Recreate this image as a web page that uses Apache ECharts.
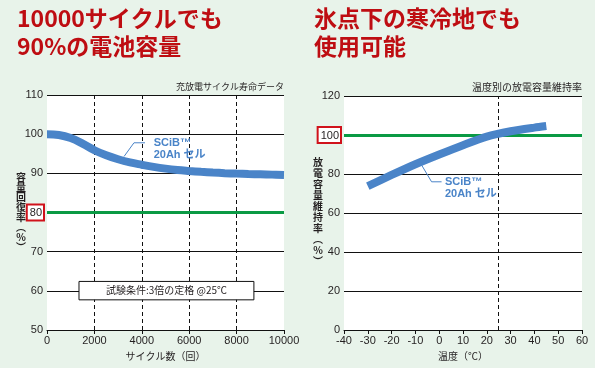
<!DOCTYPE html>
<html><head><meta charset="utf-8">
<script src="https://cdn.jsdelivr.net/npm/echarts@6/dist/echarts.min.js"></script>
<style>html,body{margin:0;padding:0;background:#e8f3ea}#c{width:595px;height:368px}</style>
</head><body><div id="c"></div>
<script>
// ---- data ----
const cycles = [0,500,1000,1500,2000,2500,3000,3500,4000,4500,5000,5500,6000,6500,7000,7500,8000,8500,9000,9500,10000];
const capacity = [100,99.8,99.0,97.6,95.9,94.6,93.6,92.8,92.2,91.65,91.2,90.85,90.6,90.38,90.2,90.05,89.93,89.83,89.75,89.67,89.6];
const temps = [-30,-20,-10,0,10,20,30,40,45];
const retention = [73.8,79.5,85,90,94.8,99.2,101.9,103.8,104.6];
const leftYTicks = [50,60,70,80,90,100,110];
const rightYTicks = [0,20,40,60,80,100,120];
const leftRef = 80, rightRef = 100, rightDash = 25;

const FONT = '"Liberation Sans","Noto Sans CJK JP",sans-serif';
const JP = '"Noto Sans CJK JP",sans-serif';
const BLUE = '#4a84c8', GREEN = '#0a9a44', RED = '#be0d12', FRAME = '#d0121b';

function yLabel(ref){
  return {
    fontSize: 11, color:'#231f20', fontFamily: FONT, margin: 4,
    formatter: v => v === ref ? '{b|' + v + '}' : '' + v,
    rich: { b: { fontSize: 11, fontFamily: FONT, color:'#231f20', backgroundColor:'#fff',
      borderColor: FRAME, borderWidth: 2, padding:[2,1,1,2] } }
  };
}

const chart = echarts.init(document.getElementById('c'), null, {renderer:'canvas'});
const option = {
  backgroundColor: '#e8f3ea',
  animation: false,
  title: [
    {text:'10000サイクルでも\n90%の電池容量', left: 17, top: 5, padding:0,
     textStyle:{color:RED, fontSize:23, fontWeight:'bold', lineHeight:27.5, fontFamily:JP}},
    {text:'氷点下の寒冷地でも\n使用可能', left: 314, top: 5, padding:0,
     textStyle:{color:RED, fontSize:23, fontWeight:'bold', lineHeight:27.5, fontFamily:JP}},
    {text:'充放電サイクル寿命データ', right: 311, top: 82, padding:0,
     textStyle:{color:'#231f20', fontSize:9, fontWeight:'normal', fontFamily:JP}},
    {text:'温度別の放電容量維持率', right: 13, top: 82, padding:0,
     textStyle:{color:'#231f20', fontSize:10, fontWeight:'normal', fontFamily:JP}}
  ],
  grid: [
    {left:47, right:311, top:95, bottom:38, show:true, backgroundColor:'#fff', borderWidth:0},
    {left:344, right:13, top:96, bottom:38, show:true, backgroundColor:'#fff', borderWidth:0}
  ],
  xAxis: [
    {gridIndex:0, type:'value', min:0, max:10000, interval:2000,
     axisLine:{show:true, lineStyle:{color:'#111', width:1}},
     axisTick:{show:true, length:4, lineStyle:{color:'#111'}},
     axisLabel:{fontSize:11, color:'#231f20', fontFamily:FONT, margin:5, formatter: v => '' + v},
     splitLine:{show:true, showMinLine:false, showMaxLine:false, lineStyle:{color:'#111', type:[4,3], width:1}},
     name:'サイクル数（回）', nameLocation:'middle', nameGap:21,
     nameTextStyle:{fontSize:10, color:'#231f20', fontFamily:JP}},
    {gridIndex:1, type:'value', min:-40, max:60, interval:10,
     axisLine:{show:true, lineStyle:{color:'#111', width:1}},
     axisTick:{show:true, length:4, lineStyle:{color:'#111'}},
     axisLabel:{fontSize:11, color:'#231f20', fontFamily:FONT, margin:5, formatter: v => '' + v},
     splitLine:{show:false},
     name:'温度（℃）', nameLocation:'middle', nameGap:21,
     nameTextStyle:{fontSize:10, color:'#231f20', fontFamily:JP}}
  ],
  yAxis: [
    {gridIndex:0, type:'value', min:leftYTicks[0], max:leftYTicks[leftYTicks.length-1], interval:10,
     axisLine:{show:false}, axisTick:{show:false}, axisLabel:yLabel(leftRef),
     splitLine:{show:true, showMinLine:false, lineStyle:{color:'#111', width:1}}},
    {gridIndex:1, type:'value', min:rightYTicks[0], max:rightYTicks[rightYTicks.length-1], interval:20,
     axisLine:{show:false}, axisTick:{show:false}, axisLabel:yLabel(rightRef),
     splitLine:{show:true, showMinLine:false, lineStyle:{color:'#111', width:1}}}
  ],
  series: [
    {type:'line', xAxisIndex:0, yAxisIndex:0, data:cycles.map((c,i)=>[c,capacity[i]]),
     smooth:0.4, symbol:'none', lineStyle:{color:BLUE, width:8, cap:'butt'}, z:3,
     markLine:{silent:true, symbol:'none', label:{show:false}, z:2,
       lineStyle:{color:GREEN, width:3, type:'solid'}, data:[{yAxis:leftRef}]}},
    {type:'line', xAxisIndex:1, yAxisIndex:1, data:temps.map((t,i)=>[t,retention[i]]),
     smooth:0.25, symbol:'none', lineStyle:{color:BLUE, width:8, cap:'butt'}, z:3,
     markLine:{silent:true, symbol:'none', label:{show:false}, z:2,
       data:[{yAxis:rightRef, lineStyle:{color:GREEN, width:3, type:'solid'}},
             {xAxis:rightDash, lineStyle:{color:'#111', width:1, type:[4,3]}}]}}
  ]
};
chart.setOption(option);

// annotations anchored in data coordinates
function P(gi, x, y){ return chart.convertToPixel({gridIndex:gi}, [x,y]); }
const vertName = (s) => s.split('').join('\n');
const a1 = P(0,3250,94.3), a2 = P(0,3670,97.8), a3 = P(0,4135,97.8), t1 = P(0,4500,97.8);
const b1 = P(1,-7.4,84.6), b2 = P(1,-3.2,76), b3 = P(1,1.0,76), t2 = P(1,2.4,76);
const bx1 = P(0,1350,62.4), bx2 = P(0,8730,57.7);
const lblStyle = {fill:BLUE, font:'bold 11px "Liberation Sans","Noto Sans CJK JP",sans-serif', lineHeight:12, text:'SCiB™\n20Ah セル', verticalAlign:'top'};
chart.setOption({graphic:[
  {type:'polyline', shape:{points:[a1,a2,a3]}, style:{stroke:BLUE, lineWidth:1, fill:null}, z:10},
  {type:'text', x:t1[0], y:t1[1]-6, style:Object.assign({}, lblStyle), z:10},
  {type:'polyline', shape:{points:[b1,b2,b3]}, style:{stroke:BLUE, lineWidth:1, fill:null}, z:10},
  {type:'text', x:t2[0], y:t2[1]-6, style:Object.assign({}, lblStyle), z:10},
  {type:'rect', shape:{x:bx1[0], y:bx1[1], width:bx2[0]-bx1[0], height:bx2[1]-bx1[1]},
   style:{fill:'#fff', stroke:'#111', lineWidth:1}, z:10},
  {type:'text', x:(bx1[0]+bx2[0])/2, y:(bx1[1]+bx2[1])/2,
   style:{text:'試験条件:3倍の定格 @25℃', fill:'#231f20', font:'10px "Noto Sans CJK JP",sans-serif', align:'center', verticalAlign:'middle'}, z:11},
  {type:'text', x:21, y:212, style:{text:vertName('容量回復率')+'\n︵\n%\n︶', fill:'#231f20', font:'bold 10px "Noto Sans CJK JP",sans-serif', lineHeight:10, align:'center', verticalAlign:'middle'}},
  {type:'text', x:318, y:212, style:{text:vertName('放電容量維持率')+'\n︵\n%\n︶', fill:'#231f20', font:'bold 10px "Noto Sans CJK JP",sans-serif', lineHeight:11, align:'center', verticalAlign:'middle'}}
]});
</script></body></html>
